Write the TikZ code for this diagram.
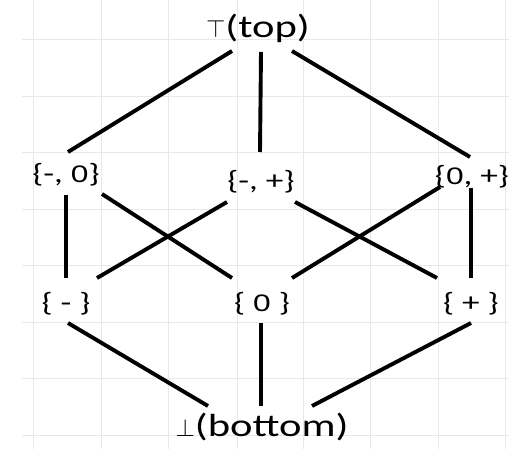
\documentclass[tikz,border=0pt]{standalone}
\usepackage{fontspec}
\newfontfamily\lblfont[FakeStretch=1.33]{Carlito}
\newfontfamily\digfont[FakeStretch=1.33,Scale=0.9]{Liberation Sans}
\newcommand{\zerodig}{{\digfont 0}}
\begin{document}
\begin{tikzpicture}[x=1pt,y=-1pt,
  lbl/.style={inner sep=0pt,font=\lblfont\fontsize{26.5}{30}\selectfont},
  biglbl/.style={inner sep=0pt,font=\lblfont\fontsize{32}{36}\selectfont},
  edge/.style={line width=3.9pt,black},
  gridline/.style={line width=0.8pt,black!9}]
\useasboundingbox (0,0) rectangle (509,449);
\fill[white] (0,0) rectangle (509,449);
% background grid
\foreach \x in {33,101,168,237,303,370,438,505}
  \draw[gridline] (\x,0) -- (\x,449);
\foreach \y in {39,96,152,209,265,322,378,435}
  \draw[gridline] (22,\y) -- (509,\y);
% nodes
\node[biglbl] (top) at (258,28) {$\top$(top)};
\node[lbl] (a) at (66,175) {\{-, \zerodig\}};
\node[lbl] (b) at (261,182) {\{-, +\}};
\node[lbl] (c) at (472,177) {\{\zerodig, +\}};
\node[lbl] (d) at (66,304) {\{ - \}};
\node[lbl] (e) at (262,304) {\{ \zerodig\ \}};
\node[lbl] (f) at (471,304) {\{ + \}};
\node[biglbl] (bot) at (262,427) {$\bot$(bottom)};
% connectors
\draw[edge] ([shift={(-26,23)}]top.center) -- ([shift={(2,-23)}]a.center);
\draw[edge] ([shift={(3,24)}]top.center) -- ([shift={(-1,-30)}]b.center);
\draw[edge] ([shift={(34,23)}]top.center) -- ([shift={(-2,-20)}]c.center);
\draw[edge] ([shift={(0,20)}]a.center) -- ([shift={(0,-26)}]d.center);
\draw[edge] ([shift={(36,19)}]a.center) -- ([shift={(-30,-26)}]e.center);
\draw[edge] ([shift={(-34,20)}]b.center) -- ([shift={(31,-26)}]d.center);
\draw[edge] ([shift={(34,20)}]b.center) -- ([shift={(-34,-26)}]f.center);
\draw[edge] ([shift={(-32,10)}]c.center) -- ([shift={(30,-26)}]e.center);
\draw[edge] ([shift={(-1,11)}]c.center) -- ([shift={(0,-26)}]f.center);
\draw[edge] ([shift={(2,19)}]d.center) -- ([shift={(-54,-21)}]bot.center);
\draw[edge] ([shift={(-1,19)}]e.center) -- ([shift={(-1,-21)}]bot.center);
\draw[edge] ([shift={(0,19)}]f.center) -- ([shift={(50,-21)}]bot.center);
\end{tikzpicture}
\end{document}
